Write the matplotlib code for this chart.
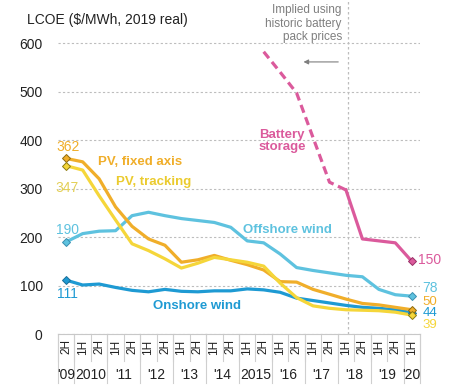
"""
lcoe_benchmarks.py
Recreate the LCOE half-yearly benchmark chart (2H 2009 - 1H 2020).
"""

import numpy as np
import matplotlib
matplotlib.use("Agg")
import matplotlib.pyplot as plt
from matplotlib.transforms import blended_transform_factory

plt.rcParams['font.family'] = ['Liberation Sans', 'DejaVu Sans']

# ---- data ----------------------------------------------------------------
halves = ['2H', '1H', '2H', '1H', '2H', '1H', '2H', '1H', '2H', '1H', '2H',
          '1H', '2H', '1H', '2H', '1H', '2H', '1H', '2H', '1H', '2H', '1H']
years = ["'09", "2010", "'11", "'12", "'13", "'14", "2015", "'16", "'17",
         "'18", "'19", "'20"]
year_spans = [1, 2, 2, 2, 2, 2, 2, 2, 2, 2, 2, 1]

pv_fixed = [362, 355, 320, 262, 222, 196, 183, 148, 153, 162, 152,
            143, 132, 108, 107, 92, 82, 72, 63, 60, 55, 50]
pv_tracking = [347, 338, 285, 235, 186, 172, 155, 136, 146, 158, 153,
               148, 140, 105, 75, 58, 53, 50, 49, 48, 45, 39]
offshore = [190, 207, 212, 213, 244, 251, 244, 238, 234, 230, 220,
            192, 188, 165, 137, 131, 126, 121, 118, 92, 81, 78]
onshore = [111, 101, 103, 96, 90, 87, 92, 88, 87, 89, 89,
           93, 91, 86, 74, 69, 64, 59, 55, 53, 50, 44]
# battery: implied (dashed) up to 1H 2018, surveyed afterwards
battery_implied = [582, 540, 497, 405, 313, 297]   # 2H'15 .. 1H'18
battery_survey = [297, 196, 192, 188, 150]         # 1H'18 .. 1H'20

c_fixed = '#F0AE2A'
c_track = '#F5D63A'
c_off = '#5EC2DF'
c_on = '#1E9AD3'
c_bat = '#DB5A9C'
grey = '#7F7F7F'

x = np.arange(len(halves))

fig = plt.figure(figsize=(4.54, 3.92), dpi=100)
ax = fig.add_axes([58 / 454, 58 / 392, 362 / 454, 334 / 392])

lw = 2.3
ax.plot(x, offshore, color=c_off, lw=lw, zorder=3)
ax.plot(x, onshore, color=c_on, lw=lw, zorder=3)
ax.plot(x, pv_fixed, color=c_fixed, lw=lw, zorder=4)
ax.plot(x, pv_tracking, color=c_track, lw=lw, zorder=4)
ax.plot(x[12:18], battery_implied, color=c_bat, lw=lw, ls=(0, (2.6, 1.5)), zorder=4)
ax.plot(x[17:], battery_survey, color=c_bat, lw=lw, zorder=4)

# end point markers
for series, col, edge in [(offshore, c_off, '#3B8FB0'), (onshore, c_on, '#1A6E99'),
                          (pv_fixed, c_fixed, '#8C6A10'), (pv_tracking, c_track, '#8C7A10')]:
    ax.plot([x[0], x[-1]], [series[0], series[-1]], ls='none', marker='D',
            ms=4.5, mfc=col, mec=edge, mew=0.7, zorder=5)
ax.plot([x[-1]], [battery_survey[-1]], ls='none', marker='D', ms=4.5,
        mfc=c_bat, mec='#9A2F66', mew=0.7, zorder=5)

ax.set_xlim(-0.5, 21.5)
ax.set_ylim(0, 688.7)
ax.set_yticks([0, 100, 200, 300, 400, 500, 600])
ax.set_yticklabels(['0', '100', '200', '300', '400', '500', '600'], fontsize=10)
ax.tick_params(axis='y', length=0, pad=11, colors='#222222')
ax.set_xticks([])
for s in ['top', 'right', 'left']:
    ax.spines[s].set_visible(False)
ax.spines['bottom'].set_color('#C8C8C8')
ax.yaxis.grid(True, ls=(0, (2, 2)), lw=0.8, color='#BDBDBD')
ax.set_axisbelow(True)

# vertical divider between implied and survey battery prices
ax.axvline(17.15, color='#BDBDBD', lw=0.9, ls=(0, (2, 2)), zorder=1)

# ---- category table under the axis -------------------------------------
tr = blended_transform_factory(ax.transData, ax.transAxes)
px = 1 / 334.0
for b in np.arange(-0.5, 22, 1):
    ax.plot([b, b], [0, -27 * px], color='#CFCFCF', lw=0.8, transform=tr, clip_on=False)
start = -0.5
for yr, span in zip(years, year_spans):
    ax.plot([start, start], [0, -49 * px], color='#CFCFCF', lw=0.8, transform=tr, clip_on=False)
    ax.text(start + span / 2, -41 * px, yr, transform=tr, ha='center', va='center',
            fontsize=10, color='#222222')
    start += span
ax.plot([21.5, 21.5], [0, -49 * px], color='#CFCFCF', lw=0.8, transform=tr, clip_on=False)
for i, h in enumerate(halves):
    ax.text(i, -13 * px, h, transform=tr, ha='center', va='center', rotation=90,
            fontsize=8.5, color='#222222')

# ---- labels ---------------------------------------------------------------
fig.text(27 / 454, 1 - 20 / 392, 'LCOE ($/MWh, 2019 real)', ha='left', va='center',
         fontsize=10, color='#222222')

ax.text(1.95, 355, 'PV, fixed axis', color=c_fixed, fontsize=9.5, fontweight='bold',
        ha='left', va='center')
ax.text(3.05, 313, 'PV, tracking', color='#EBCB2E', fontsize=9.5, fontweight='bold',
        ha='left', va='center')
ax.text(10.75, 214, 'Offshore wind', color=c_off, fontsize=9.5, fontweight='bold',
        ha='left', va='center')
ax.text(5.3, 58, 'Onshore wind', color=c_on, fontsize=9.5, fontweight='bold',
        ha='left', va='center')
ax.text(13.1, 398, 'Battery\nstorage', color=c_bat, fontsize=9.5, fontweight='bold',
        ha='center', va='center', linespacing=1.05)

ax.text(0.1, 386, '362', color=c_fixed, fontsize=10, ha='center', va='center')
ax.text(0.05, 301, '347', color='#E3CF55', fontsize=10, ha='center', va='center')
ax.text(0.1, 214, '190', color=c_off, fontsize=10, ha='center', va='center')
ax.text(0.1, 82, '111', color=c_on, fontsize=10, ha='center', va='center')

ax.text(21.4, 152, '150', color=c_bat, fontsize=10, ha='left', va='center')
ax.text(21.65, 94, '78', color=c_off, fontsize=10, ha='left', va='center')
ax.text(21.65, 66, '50', color=c_fixed, fontsize=9.5, ha='left', va='center')
ax.text(21.65, 43, '44', color=c_on, fontsize=9.5, ha='left', va='center')
ax.text(21.65, 19, '39', color=c_track, fontsize=9.5, ha='left', va='center')

ax.text(16.75, 680, 'Implied using\nhistoric battery\npack prices', color=grey,
        fontsize=8.5, ha='right', va='top', linespacing=1.15)
ax.annotate('', xy=(14.25, 561), xytext=(16.7, 561),
            arrowprops=dict(arrowstyle='-|>', color=grey, lw=0.8,
                            mutation_scale=7))

fig.savefig('out.png', dpi=100)
